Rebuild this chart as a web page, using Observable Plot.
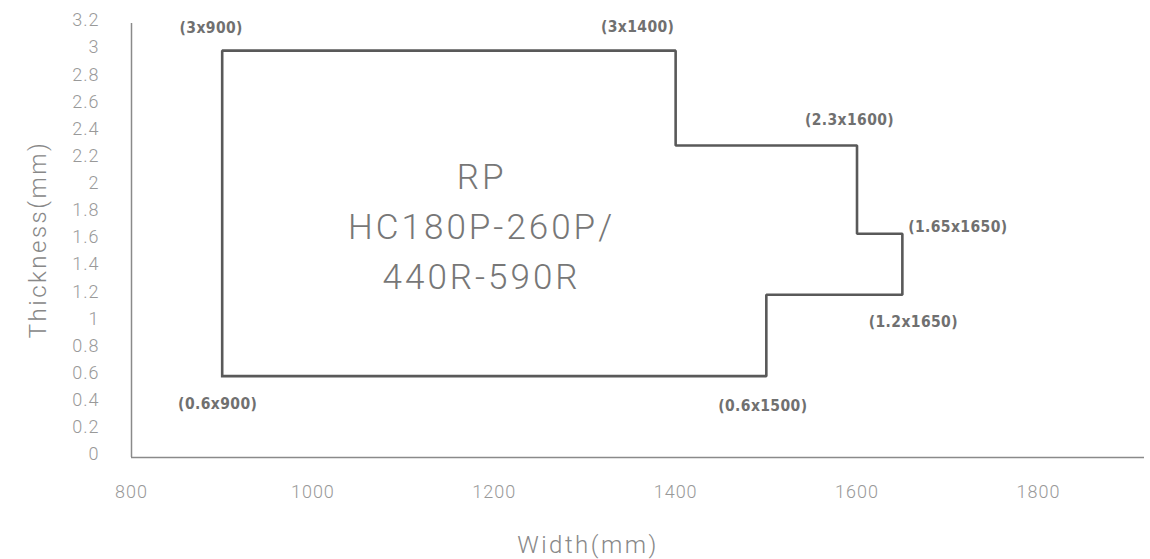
<!DOCTYPE html>
<html>
<head>
<meta charset="utf-8">
<script src="https://cdn.jsdelivr.net/npm/d3@7"></script>
<script src="https://cdn.jsdelivr.net/npm/@observablehq/plot@0.6"></script>
<style>
  html, body { margin: 0; padding: 0; background: #fff; }
  g[font-family*="Condensed"] { letter-spacing: 0.4px; }
  g[aria-label="x-axis tick label"], g[aria-label="y-axis tick label"] { letter-spacing: 1px; font-size: 18px; }
  g[font-size="35"] { letter-spacing: 3px; }
  g[font-size="24"] { letter-spacing: 2.5px; }
</style>
</head>
<body>
<div id="chart"></div>
<script>
// Outline of the RP range (width in mm, thickness in mm), closed polygon
const widths      = [900, 900, 1400, 1400, 1600, 1600, 1650, 1650, 1500, 1500, 900];
const thicknesses = [0.6, 3,   3,    2.3,  2.3,  1.65, 1.65, 1.2,  1.2,  0.6,  0.6];

// Labelled corners
const labelWidths      = [900, 1400, 1600, 1650, 1650, 1500, 900];
const labelThicknesses = [3,   3,    2.3,  1.65, 1.2,  0.6,  0.6];
const labelTexts = ["(3x900)", "(3x1400)", "(2.3x1600)", "(1.65x1650)", "(1.2x1650)", "(0.6x1500)", "(0.6x900)"];

// Region label
const regionText = "RP\nHC180P-260P/\n440R-590R";
const regionWidth = 1186;
const regionThickness = 1.73;

// Axes
const xTicks = [800, 1000, 1200, 1400, 1600, 1800];
const yTicks = [0, 0.2, 0.4, 0.6, 0.8, 1, 1.2, 1.4, 1.6, 1.8, 2, 2.2, 2.4, 2.6, 2.8, 3, 3.2];
const xTitle = "Width(mm)";
const yTitle = "Thickness(mm)";

const outline = widths.map((w, i) => ({w, t: thicknesses[i]}));
const labels = labelWidths.map((w, i) => ({w, t: labelThicknesses[i], text: labelTexts[i]}));
// pixel offsets of each corner label from its corner
const labelOffsets = [[-11, -23], [-38, -23.5], [-7.5, -25.5], [55.5, -7], [11, 27], [-3.5, 29.5], [-4.5, 28]];

const chart = Plot.plot({
  width: 1150,
  height: 559,
  marginLeft: 131,
  marginRight: 6,
  marginTop: 23,
  marginBottom: 102,
  style: {fontFamily: "Roboto, 'Noto Sans', sans-serif", background: "#fff"},
  x: {domain: [800, 1917]},
  y: {domain: [0, 3.2]},
  marks: [
    Plot.ruleY([0], {stroke: "#8a8a8a", strokeWidth: 1.5}),
    Plot.ruleX([800], {stroke: "#8a8a8a", strokeWidth: 1.5}),
    Plot.axisX({ticks: xTicks, tickSize: 0, tickPadding: 28, label: null, fill: "#999",
      fontSize: 18, fontWeight: 300, tickFormat: d => `${d}`}),
    Plot.axisY({ticks: yTicks, tickSize: 0, tickPadding: 32, label: null, fill: "#999",
      fontSize: 18, fontWeight: 300, dy: -3, tickFormat: d => `${d}`}),
    Plot.line(outline, {x: "w", y: "t", stroke: "#595959", strokeWidth: 2.6, strokeLinejoin: "miter", strokeLinecap: "square"}),
    ...labels.map((d, i) => Plot.text([d], {
      x: "w", y: "t", text: "text",
      dx: labelOffsets[i][0], dy: labelOffsets[i][1],
      fill: "#707070", fontSize: 15.5, fontWeight: "bold",
      fontFamily: "'DejaVu Sans Condensed', 'Liberation Sans Narrow', sans-serif"
    })),
    Plot.text([regionText], {
      x: () => regionWidth, y: () => regionThickness, text: d => d,
      fill: "#777", fontSize: 35, fontWeight: 300, lineHeight: 1.43, lineAnchor: "middle"
    }),
    Plot.text([xTitle], {frameAnchor: "bottom", textAnchor: "middle", lineAnchor: "middle",
      dx: -50, dy: 88, text: d => d, fill: "#888", fontSize: 24, fontWeight: 300}),
    Plot.text([yTitle], {frameAnchor: "left", textAnchor: "middle", lineAnchor: "middle",
      dx: -93, dy: -1, rotate: -90, text: d => d, fill: "#888", fontSize: 24, fontWeight: 300})
  ]
});
document.getElementById("chart").appendChild(chart);
</script>
</body>
</html>
